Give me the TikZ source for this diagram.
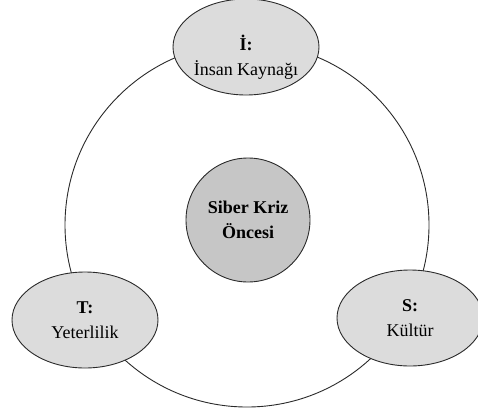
\documentclass[tikz,border=0pt]{standalone}
\usepackage{fontspec}
\setmainfont{Liberation Serif}
\usetikzlibrary{shapes.geometric}
\definecolor{ellfill}{HTML}{DCDCDC}
\definecolor{corefill}{HTML}{C6C6C6}
\definecolor{edge}{HTML}{2A2A2A}
\tikzset{
  ring/.style={circle, draw=edge, line width=0.9pt, minimum size=364pt, inner sep=0pt},
  petal/.style={ellipse, draw=edge, line width=0.9pt, fill=ellfill, minimum width=146pt, minimum height=96pt, inner sep=0pt, align=center, font=\fontsize{18}{25}\selectfont},
  petaltext/.style={inner sep=0pt, align=center, font=\fontsize{18}{25}\selectfont},
  core/.style={circle, draw=edge, line width=0.9pt, fill=corefill, minimum size=124pt, inner sep=0pt, align=center, font=\fontsize{18}{25}\selectfont\bfseries}
}
\begin{document}
\begin{tikzpicture}[x=1pt,y=-1pt]
\useasboundingbox (0,0) rectangle (478,412);
\begin{scope}
\clip (0,0) rectangle (478,412);
\node[ring] (ring) at (247,225) {};
\node[petal] (top) at (246,47) {};
\node[petaltext] (toptext) at ([yshift=-10pt]top.center) {\textbf{İ:}\\İnsan Kaynağı};
\node[petal] (left) at (85,320) {\textbf{T:}\\Yeterlilik};
\node[petal] (right) at (410,318) {\textbf{S:}\\Kültür};
\node[core] (core) at (248,220) {Siber Kriz\\Öncesi};
\end{scope}
\end{tikzpicture}
\end{document}
